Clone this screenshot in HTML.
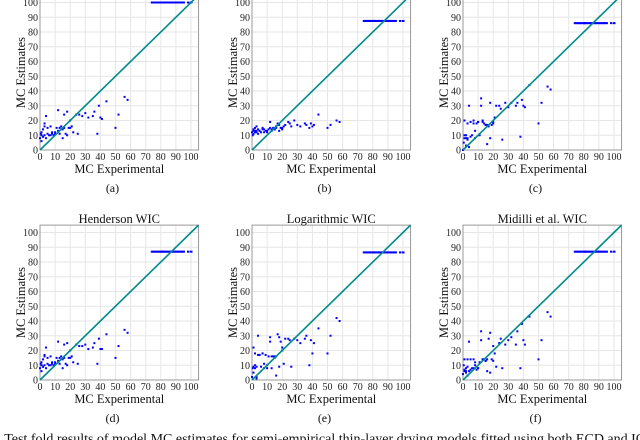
<!DOCTYPE html>
<html><head><meta charset="utf-8">
<style>
html,body{margin:0;padding:0;background:#fff;width:640px;height:440px;overflow:hidden;font-family:"Liberation Serif",serif;}
svg{display:block;font-family:"Liberation Serif",serif}
svg text{font-family:"Liberation Serif",serif}
</style></head>
<body>
<svg id="fig" width="640" height="440" xmlns="http://www.w3.org/2000/svg"></svg>
<script>
const expX=[0,0.5,1,1,2,2,3,3,4,4,5,6,7,8,9,10,11,12,12,13,14,15,16,17,18,18,19,20,21,22,24,25,26,28,30,32,35,36,38,39,40,41,44,50,52,56,58,3,8,15,1,2,5,7,10,13,16,20];
const highX=[74,75,76,77,78,79,80,80.5,81,82,83,84,85,86,87,88,89,90,91,92,93,94,95,98,100];
const estA=[8,11,6,12,9,14,10,16,23,8,15,10,16,12,10,11,15,27,13,15,16,14,24,11,26,10,15,20,16,12,24,11,24,23,25,22,23,26,11,30,22,21,33,15,24,36,34,18,11,8,10,9,11,10,12,11,15,15];
const estB=[12,10,14,11,13,15,12,16,11,14,13,12,15,14,13,12,14,15,19,13,15,14,16,18,13,17,15,14,16,17,19,18,16,20,17,16,18,17,15,18,16,17,24,15,17,20,19,13,12,14,13,12,13,14,13,14,15,15];
const estC=[0,5,8,20,3,10,18,8,30,2,19,10,20,8,18,19,10,35,30,19,18,17,4,16,32,8,17,18,22,30,30,28,7,32,29,32,30,32,9,34,30,29,44,18,32,43,41,7,13,17,10,8,9,18,19,20,17,19];
const estD=[8,11,6,12,9,14,10,16,22,8,15,10,16,12,10,11,15,26,13,15,16,14,24,11,25,10,15,20,16,12,24,11,23,23,24,21,22,25,11,28,21,21,31,15,23,34,32,17,11,8,10,9,11,10,12,11,15,15];
const estE=[2,8,5,22,10,18,1,9,30,17,17,9,18,11,17,8,16,26,29,8,16,16,3,31,29,9,26,22,11,28,28,27,9,28,27,25,28,30,10,27,18,25,35,18,30,42,40,2,8,15,9,8,17,18,10,16,16,20];
const estF=[4,10,6,14,8,5,3,14,26,6,14,8,14,10,7,8,12,33,27,14,14,13,6,28,32,5,14,23,18,9,25,28,8,24,27,29,24,33,8,38,27,24,43,14,27,46,43,9,12,13,7,6,7,8,8,14,14,13];
const highLevels=[100,87.5,86,87,86.5,87];
const panelTitles=["","","","Henderson WIC","Logarithmic WIC","Midilli et al. WIC"];
const subLabels=["(a)","(b)","(c)","(d)","(e)","(f)"];
const ticks=[0,10,20,30,40,50,60,70,80,90,100];
const ests=[estA,estB,estC,estD,estE,estF];

const NS="http://www.w3.org/2000/svg";
const FF='Liberation Serif, DejaVu Serif, serif';
const svg=document.getElementById('fig');
function mk(tag,attrs,parent){const e=document.createElementNS(NS,tag);for(const k in attrs)e.setAttribute(k,attrs[k]);if(tag==='text')e.setAttribute('font-family',FF);(parent||svg).appendChild(e);return e;}
const origins=[[40,150],[252,150],[463,150],[40,380],[252,380],[463,380]];
const sx=1.51, sy=1.475, MAX=105;
for(let p=0;p<6;p++){
  const [ox,oy]=origins[p];
  const X=v=>ox+v*sx, Y=v=>oy-v*sy;
  const g=mk('g',{});
  
  
  ticks.forEach(t=>{
    const gl=mk('line',{x1:X(t),x2:X(t),y1:Y(MAX),y2:Y(0),stroke:'#e6e6e6','stroke-width':1},g);
    
    const gh=mk('line',{x1:X(0),x2:X(MAX),y1:Y(t),y2:Y(t),stroke:'#e6e6e6','stroke-width':1},g);
    
    const tx=mk('text',{x:X(t),y:oy+10,'font-size':10,'text-anchor':'middle',fill:'#222'},g);tx.textContent=t;
    
    const ty=mk('text',{x:ox-2,y:Y(t)+3.5,'font-size':10,'text-anchor':'end',fill:'#222'},g);ty.textContent=t;
    
  });
  const box=mk('rect',{x:X(0),y:Y(MAX),width:MAX*sx,height:MAX*sy,fill:'none',stroke:'#999','stroke-width':1},g);
  
  const est=ests[p];
  expX.forEach((x,i)=>{
    const r=mk('rect',{x:X(x)-1,y:Y(est[i])-1,width:2,height:2,fill:'#0000ff'},g);
    
  });
  highX.forEach(x=>{
    const r=mk('rect',{x:X(x)-1,y:Y(highLevels[p])-1,width:2.5,height:2,fill:'#0000ff'},g);
    
  });
  const dl=mk('line',{x1:X(0),y1:Y(0),x2:X(MAX),y2:Y(MAX),stroke:'#008b8b','stroke-width':1.6},g);
  
  const xl=mk('text',{x:X(52.5),y:oy+23,'font-size':12.5,'text-anchor':'middle',fill:'#111'},g);xl.textContent='MC Experimental';
  
  const yx=ox-15, yy=Y(52.5);
  const yl=mk('text',{x:yx,y:yy,'font-size':12.5,'text-anchor':'middle',fill:'#111',transform:`rotate(-90 ${yx} ${yy})`},g);yl.textContent='MC Estimates';
  
  if(panelTitles[p]){
    const tt=mk('text',{x:X(52.5),y:Y(MAX)-2,'font-size':12.5,'text-anchor':'middle',fill:'#111'},g);tt.textContent=panelTitles[p];
    
  }
  const sl=mk('text',{x:X(48),y:oy+42,'font-size':12,'text-anchor':'middle',fill:'#111'},g);sl.textContent=subLabels[p];
  
}
const cap=mk('text',{x:-50,y:443,'font-size':14,fill:'#111'});
cap.textContent='Figure 6: Test fold results of model MC estimates for semi-empirical thin-layer drying models fitted using both ECD and ICD';


</script>
</body></html>
